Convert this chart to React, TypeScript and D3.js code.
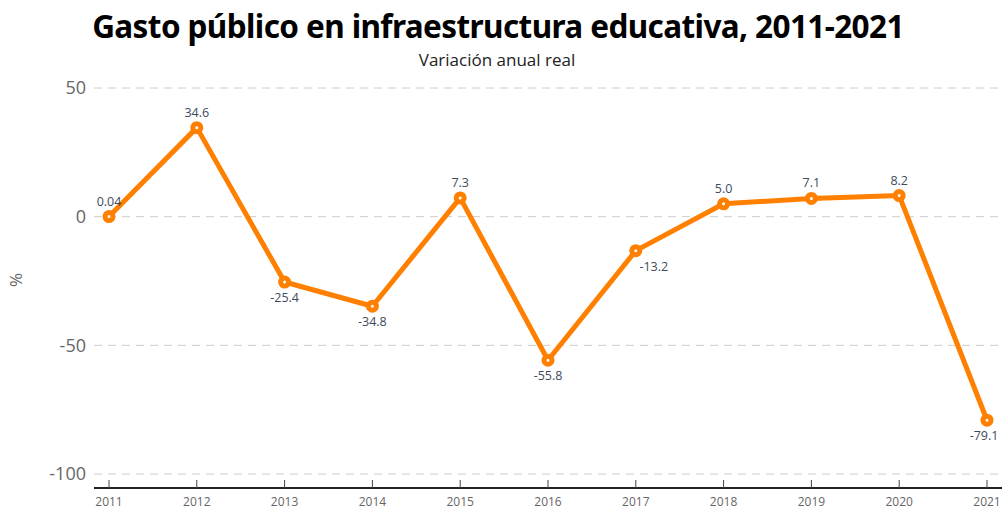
import React from "react";
import * as d3 from "d3";

const years = [2011, 2012, 2013, 2014, 2015, 2016, 2017, 2018, 2019, 2020, 2021];
const values = [0.04, 34.6, -25.4, -34.8, 7.3, -55.8, -13.2, 5.0, 7.1, 8.2, -79.1];
const labels = ["0.04", "34.6", "-25.4", "-34.8", "7.3", "-55.8", "-13.2", "5.0", "7.1", "8.2", "-79.1"];
const yTicks = [50, 0, -50, -100];

const W = 1002, H = 510;
const plotLeft = 94, plotRight = 1002;
const labelShift: Record<number, number> = { 2017: 18, 2021: -3 };

export default function App() {
  const x = d3.scaleLinear().domain([2011, 2021]).range([109, 987]);
  const y = d3.scaleLinear().domain([50, -100]).range([88, 474]);
  const line = d3.line<number>().x((_, i) => x(years[i])).y((d) => y(d));
  const font = "'Open Sans', 'DejaVu Sans', sans-serif";
  return (
    <svg width={W} height={H} style={{ position: "absolute", left: 0, top: 0 }} fontFamily={font}>
      <rect width={W} height={H} fill="#fff" />
      <text x={498} y={38} textAnchor="middle" fontSize={31.5} fontWeight={700} fill="#000" fontFamily="'Noto Sans', 'Open Sans', sans-serif" letterSpacing={-0.6}>
        Gasto público en infraestructura educativa, 2011-2021
      </text>
      <text x={497} y={66} textAnchor="middle" fontSize={17} fill="#222">Variación anual real</text>
      {yTicks.map((t) => (
        <g key={t}>
          <line x1={plotLeft} x2={plotRight} y1={y(t)} y2={y(t)} stroke="#cccccc" strokeWidth={1} strokeDasharray="8,6" />
          <text x={86} y={y(t)} dy="0.35em" textAnchor="end" fontSize={18} fill="#666">{t}</text>
        </g>
      ))}
      <text transform={`translate(22,280) rotate(-90)`} textAnchor="middle" fontSize={17} fill="#666">%</text>
      <line x1={plotLeft} x2={plotRight} y1={488} y2={488} stroke="#222" strokeWidth={2} />
      {years.map((yr) => (
        <g key={yr}>
          <line x1={x(yr)} x2={x(yr)} y1={480} y2={488} stroke="#444" strokeWidth={1} />
          <text x={x(yr)} y={506} textAnchor="middle" fontSize={12} fill="#666">{yr}</text>
        </g>
      ))}
      <path d={line(values) || ""} fill="none" stroke="#ff8000" strokeWidth={5} strokeLinejoin="round" />
      {values.map((v, i) => (
        <g key={i}>
          <circle cx={x(years[i])} cy={y(v)} r={4} fill="#fff" stroke="#ff8000" strokeWidth={5} />
          <text
            x={x(years[i]) + (labelShift[years[i]] || 0)}
            y={v >= 0 ? y(v) - 11 : y(v) + 20}
            textAnchor="middle"
            fontSize={12.5}
            fill="#3d4a5c"
          >
            {labels[i]}
          </text>
        </g>
      ))}
    </svg>
  );
}
